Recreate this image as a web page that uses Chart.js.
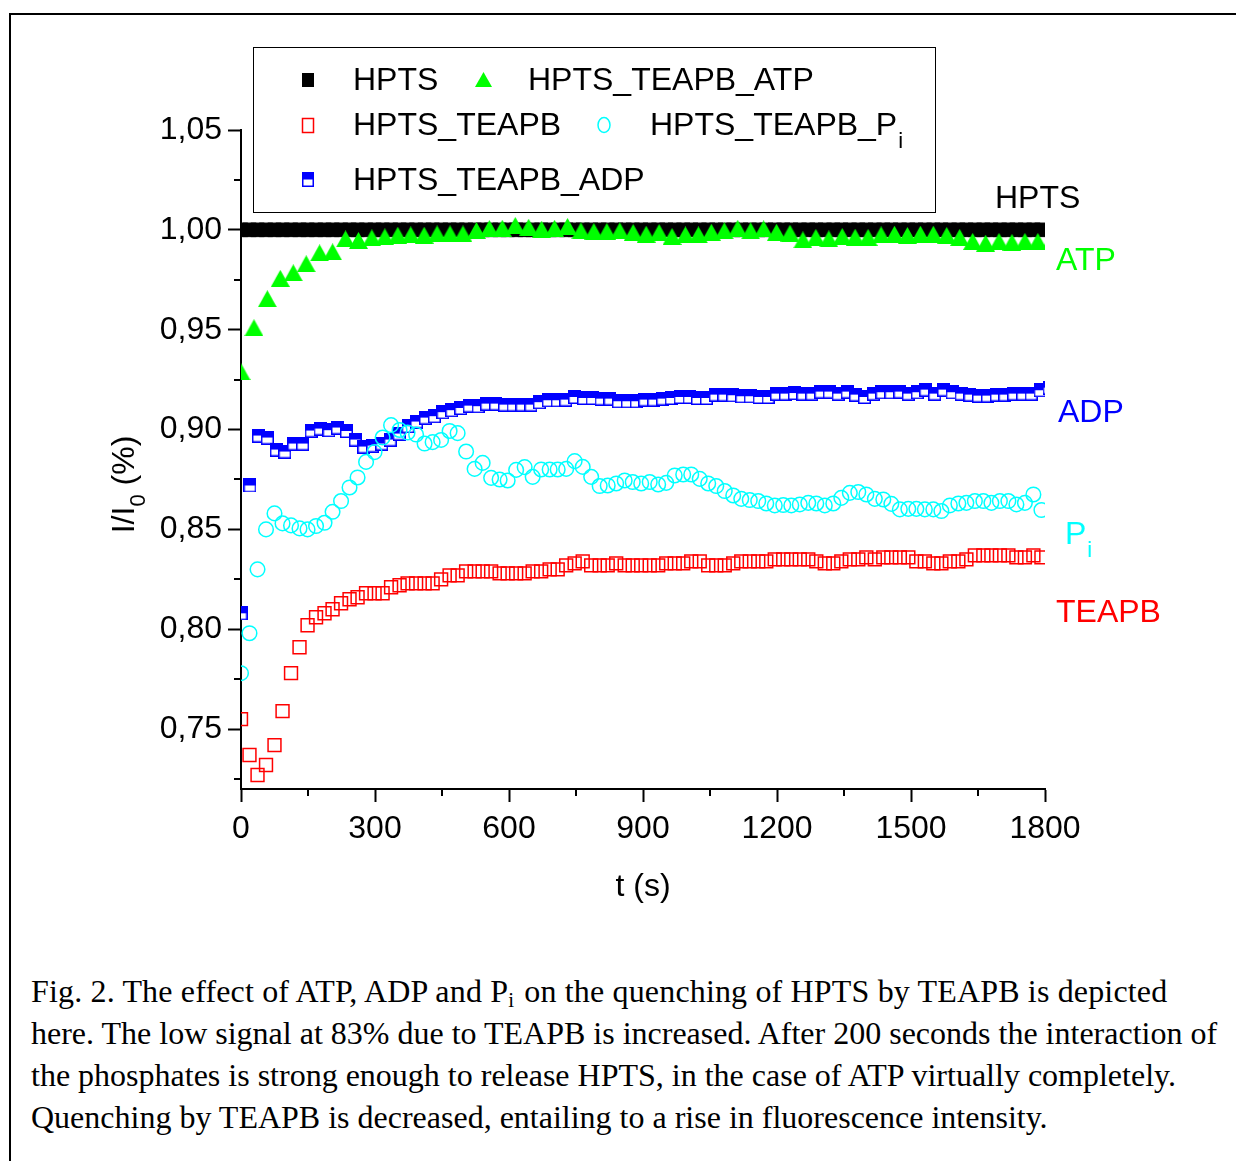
<!DOCTYPE html>
<html><head><meta charset="utf-8">
<script src="https://cdn.jsdelivr.net/npm/chart.js@4.4.0/dist/chart.umd.min.js"></script>
<style>
html,body{margin:0;padding:0;background:#fff;}
body{width:1236px;height:1161px;position:relative;overflow:hidden;}
#frame{position:absolute;left:9px;top:13px;width:1400px;height:1400px;border-left:2px solid #000;border-top:2px solid #000;box-sizing:border-box;}
#wrap{position:absolute;left:0;top:0;width:1236px;height:950px;}
#c{display:block;width:1236px;height:950px;}
#caption{position:absolute;left:31px;top:970px;font-family:'Liberation Serif','Times New Roman',serif;font-size:32px;line-height:42px;white-space:nowrap;color:#000;}
#caption sub{font-size:21px;vertical-align:-5px;line-height:0;padding-right:2px;}
#l1{letter-spacing:0.16px;}
</style></head>
<body>
<div id="frame"></div>
<div id="wrap"><canvas id="c" width="1236" height="950"></canvas></div>
<div id="caption"><span id="l1">Fig. 2. The effect of ATP, ADP and P<sub>i</sub> on the quenching of HPTS by TEAPB is depicted</span><br>here. The low signal at 83% due to TEAPB is increased. After 200 seconds the interaction of<br>the phosphates is strong enough to release HPTS, in the case of ATP virtually completely.<br>Quenching by TEAPB is decreased, entailing to a rise in fluorescence intensity.</div>
<script>
// ---------- data ----------
const xTickValues = [0, 300, 600, 900, 1200, 1500, 1800];
const xMinorTicks = [150, 450, 750, 1050, 1350, 1650];
const yTickValues = [0.75, 0.80, 0.85, 0.90, 0.95, 1.00, 1.05];
const yTickLabels = ["0,75", "0,80", "0,85", "0,90", "0,95", "1,00", "1,05"];
const yMinorTicks = [0.725, 0.775, 0.825, 0.875, 0.925, 0.975, 1.025];

const seriesNames = ["HPTS", "HPTS_TEAPB", "HPTS_TEAPB_ADP", "HPTS_TEAPB_ATP", "HPTS_TEAPB_Pi"];

// sampling times (s) of HPTS, HPTS_TEAPB and HPTS_TEAPB_Pi
const timesMain = [0,19,37,56,75,93,112,131,149,168,
  187,205,224,243,261,280,299,317,336,355,
  373,392,411,429,448,467,485,504,523,541,
  560,579,597,616,635,653,672,691,709,728,
  747,765,784,803,821,840,859,877,896,915,
  934,952,971,990,1008,1027,1046,1064,1083,1102,
  1120,1139,1158,1176,1195,1214,1232,1251,1270,1288,
  1307,1326,1344,1363,1382,1400,1419,1438,1456,1475,
  1494,1512,1531,1550,1568,1587,1606,1624,1643,1662,
  1680,1699,1718,1736,1755,1774,1792];

const hptsValues = [1.000,1.000,1.000,1.000,1.000,1.000,1.000,1.000,1.000,1.000,
  1.000,1.000,1.000,1.000,1.000,1.000,1.000,1.000,1.000,1.000,
  1.000,1.000,1.000,1.000,1.000,1.000,1.000,1.000,1.000,1.000,
  1.000,1.000,1.000,1.000,1.000,1.000,1.000,1.000,1.000,1.000,
  1.000,1.000,1.000,1.000,1.000,1.000,1.000,1.000,1.000,1.000,
  1.000,1.000,1.000,1.000,1.000,1.000,1.000,1.000,1.000,1.000,
  1.000,1.000,1.000,1.000,1.000,1.000,1.000,1.000,1.000,1.000,
  1.000,1.000,1.000,1.000,1.000,1.000,1.000,1.000,1.000,1.000,
  1.000,1.000,1.000,1.000,1.000,1.000,1.000,1.000,1.000,1.000,
  1.000,1.000,1.000,1.000,1.000,1.000,1.000];

const teapbValues = [0.755,0.737,0.727,0.732,0.742,0.759,0.778,0.791,0.802,0.806,
  0.808,0.810,0.813,0.815,0.816,0.818,0.818,0.818,0.821,0.822,
  0.823,0.823,0.823,0.823,0.825,0.827,0.827,0.829,0.829,0.829,
  0.829,0.828,0.828,0.828,0.828,0.829,0.829,0.830,0.830,0.832,
  0.833,0.834,0.832,0.832,0.832,0.833,0.832,0.832,0.832,0.832,
  0.832,0.833,0.833,0.833,0.834,0.834,0.832,0.832,0.832,0.833,
  0.834,0.834,0.834,0.834,0.835,0.835,0.835,0.835,0.835,0.834,
  0.833,0.833,0.834,0.835,0.835,0.836,0.835,0.836,0.836,0.836,
  0.836,0.834,0.834,0.833,0.833,0.834,0.834,0.835,0.837,0.837,
  0.837,0.837,0.837,0.836,0.836,0.837,0.836];

const piValues = [0.778,0.798,0.830,0.850,0.858,0.853,0.852,0.8505,0.850,0.8517,
  0.8533,0.8588,0.8642,0.871,0.876,0.8838,0.8887,0.896,0.9022,0.8998,
  0.8985,0.8975,0.893,0.8937,0.8948,0.8993,0.8982,0.889,0.8803,0.8833,
  0.8758,0.875,0.8745,0.8798,0.8812,0.8763,0.880,0.880,0.880,0.8803,
  0.8842,0.8813,0.8763,0.8717,0.872,0.873,0.8745,0.8737,0.873,0.8737,
  0.8725,0.8733,0.877,0.8775,0.8775,0.8753,0.873,0.8717,0.8692,0.867,
  0.8653,0.8647,0.8642,0.863,0.862,0.8622,0.862,0.8625,0.8633,0.863,
  0.862,0.863,0.8658,0.8683,0.8687,0.8675,0.8653,0.865,0.8628,0.860,
  0.8603,0.8603,0.860,0.860,0.8592,0.862,0.863,0.8633,0.8642,0.8642,
  0.8633,0.8642,0.8642,0.8625,0.8633,0.8675,0.8597];

// sampling times (s) of HPTS_TEAPB_ADP
const timesADP = [0,20,39,59,79,98,118,138,157,177,
  197,216,236,256,275,295,315,334,354,374,
  393,413,433,452,472,492,511,531,550,570,
  590,609,629,649,668,688,708,727,747,767,
  786,806,826,845,865,885,904,924,944,963,
  983,1003,1022,1042,1062,1081,1101,1121,1140,1160,
  1180,1199,1219,1239,1258,1278,1298,1317,1337,1357,
  1376,1396,1416,1435,1455,1475,1494,1514,1533,1553,
  1573,1592,1612,1632,1651,1671,1691,1710,1730,1750,
  1769,1789,1809];

const adpValues = [0.808,0.872,0.897,0.896,0.890,0.889,0.893,0.893,0.8995,0.9005,
  0.8997,0.901,0.8993,0.895,0.8915,0.892,0.893,0.895,0.898,0.9017,
  0.904,0.906,0.9067,0.9087,0.9097,0.9108,0.912,0.9117,0.913,0.913,
  0.9125,0.9125,0.9125,0.9125,0.9137,0.9147,0.9147,0.915,0.9163,0.9158,
  0.9158,0.9155,0.9155,0.9142,0.9142,0.9142,0.915,0.915,0.9155,0.9158,
  0.9163,0.9163,0.9158,0.9158,0.9175,0.9175,0.9172,0.9167,0.9167,0.9163,
  0.9163,0.918,0.918,0.9183,0.918,0.918,0.919,0.919,0.918,0.919,
  0.9175,0.9163,0.918,0.9187,0.9187,0.919,0.918,0.9187,0.920,0.918,
  0.920,0.9187,0.918,0.9175,0.917,0.917,0.9175,0.9175,0.918,0.918,
  0.918,0.9197,0.921];

// sampling times (s) of HPTS_TEAPB_ATP
const timesATP = [0,29,59,88,117,146,176,205,234,263,
  293,322,351,380,410,439,468,497,527,556,
  585,614,644,673,702,731,761,790,819,848,
  878,907,936,965,995,1024,1053,1082,1112,1141,
  1170,1199,1229,1258,1287,1316,1346,1375,1404,1433,
  1463,1492,1521,1550,1580,1609,1638,1667,1697,1726,
  1755,1784,1814];

const atpValues = [0.929,0.951,0.9655,0.9757,0.9785,0.983,0.9885,0.989,0.9955,0.9947,
  0.996,0.9965,0.9973,0.9975,0.9973,0.998,0.998,0.998,0.9997,1.0007,
  1.0008,1.0022,1.0013,1.0003,1.0008,1.0017,0.9995,0.9992,0.9992,0.9995,
  0.9987,0.9978,0.9987,0.9967,0.9975,0.9975,0.9988,0.9995,1.0008,0.9995,
  1.0005,0.9988,0.9983,0.995,0.9962,0.9955,0.9967,0.9963,0.9962,0.9975,
  0.9978,0.9972,0.9978,0.9978,0.9972,0.9962,0.9942,0.9933,0.9942,0.9937,
  0.9942,0.9942,0.9945];

// ---------- styles ----------
const C_BLACK = '#000000', C_RED = '#ff0000', C_BLUE = '#0000ff', C_GREEN = '#00ff00', C_CYAN = '#00ffff';
const FONT = '"Liberation Sans", Arial, sans-serif';

function makeTriangle(w, h, color) {
  const c = document.createElement('canvas'); c.width = w; c.height = h;
  const g = c.getContext('2d');
  g.fillStyle = color; g.beginPath();
  g.moveTo(w / 2, 0); g.lineTo(w, h); g.lineTo(0, h); g.closePath(); g.fill();
  return c;
}
function makeHalfSquare(w, h, color) {
  const c = document.createElement('canvas'); c.width = w; c.height = h;
  const g = c.getContext('2d');
  g.fillStyle = '#ffffff'; g.fillRect(0, 0, w, h);
  g.fillStyle = color; g.fillRect(0, 0, w, h / 2);
  g.strokeStyle = color; g.lineWidth = 1.5; g.strokeRect(0.75, 0.75, w - 1.5, h - 1.5);
  return c;
}
const triImg = makeTriangle(19, 17, C_GREEN);
const adpImg = makeHalfSquare(13, 14, C_BLUE);

function pts(ts, vs) { return ts.map((t, i) => ({ x: t, y: vs[i] })); }

const decor = {
  id: 'decor',
  afterDraw(chart) {
    const { ctx, chartArea: a, scales: { x, y } } = chart;
    ctx.save();
    // minor ticks
    ctx.strokeStyle = '#000'; ctx.lineWidth = 2;
    yMinorTicks.forEach(v => {
      const py = Math.round(y.getPixelForValue(v));
      ctx.beginPath(); ctx.moveTo(a.left - 7, py); ctx.lineTo(a.left, py); ctx.stroke();
    });
    xMinorTicks.forEach(v => {
      const px = Math.round(x.getPixelForValue(v));
      ctx.beginPath(); ctx.moveTo(px, a.bottom); ctx.lineTo(px, a.bottom + 7); ctx.stroke();
    });
    // axis titles
    ctx.fillStyle = '#000'; ctx.textBaseline = 'middle';
    ctx.font = '32px ' + FONT; ctx.textAlign = 'center';
    ctx.fillText('t (s)', (a.left + a.right) / 2, a.bottom + 98);
    // y title with subscript
    ctx.save();
    ctx.translate(a.left - 116, (a.top + a.bottom) / 2 + 25);
    ctx.rotate(-Math.PI / 2);
    ctx.textAlign = 'left';
    const p1 = 'I/I', p3 = ' (%)';
    ctx.font = '32px ' + FONT; const w1 = ctx.measureText(p1).width, w3 = ctx.measureText(p3).width;
    ctx.font = '22px ' + FONT; const w2 = ctx.measureText('0').width;
    let sx = -(w1 + w2 + w3) / 2;
    ctx.font = '32px ' + FONT; ctx.fillText(p1, sx, 0); sx += w1;
    ctx.font = '22px ' + FONT; ctx.fillText('0', sx, 14); sx += w2;
    ctx.font = '32px ' + FONT; ctx.fillText(p3, sx, 0);
    ctx.restore();
    // right-side labels
    ctx.textAlign = 'left'; ctx.font = '32px ' + FONT;
    ctx.fillStyle = C_BLACK; ctx.fillText('HPTS', a.right - 50, 199);
    ctx.fillStyle = C_GREEN; ctx.fillText('ATP', a.right + 11, 261);
    ctx.fillStyle = C_BLUE; ctx.fillText('ADP', a.right + 13, 413);
    ctx.fillStyle = C_CYAN; ctx.fillText('P', a.right + 20, 535);
    const pw = ctx.measureText('P').width;
    ctx.font = '22px ' + FONT; ctx.fillText('i', a.right + 20 + pw + 1, 551);
    ctx.font = '32px ' + FONT;
    ctx.fillStyle = C_RED; ctx.fillText('TEAPB', a.right + 11, 613);
    // legend box
    ctx.strokeStyle = '#000'; ctx.lineWidth = 1;
    ctx.strokeRect(253.5, 47.5, 682, 165);
    // legend symbols
    ctx.fillStyle = C_BLACK; ctx.fillRect(302, 73, 12, 14);
    ctx.drawImage(makeTriangle(17, 15, C_GREEN), 475, 72);
    ctx.strokeStyle = C_RED; ctx.lineWidth = 1.5; ctx.strokeRect(302.5, 118.5, 11, 14);
    ctx.strokeStyle = C_CYAN; ctx.beginPath(); ctx.ellipse(604, 125, 6, 7.5, 0, 0, Math.PI * 2); ctx.stroke();
    ctx.drawImage(makeHalfSquare(12, 15, C_BLUE), 302, 172);
    // legend texts
    ctx.fillStyle = '#000'; ctx.font = '32px ' + FONT;
    ctx.fillText('HPTS', 353, 81);
    ctx.fillText('HPTS_TEAPB_ATP', 528, 81);
    ctx.fillText('HPTS_TEAPB', 353, 126);
    ctx.fillText('HPTS_TEAPB_P', 650, 126);
    const lw = ctx.measureText('HPTS_TEAPB_P').width;
    ctx.font = '22px ' + FONT; ctx.fillText('i', 650 + lw + 1, 142);
    ctx.font = '32px ' + FONT;
    ctx.fillText('HPTS_TEAPB_ADP', 353, 181);
    ctx.restore();
  }
};

const common = { showLine: false, clip: 0 };
new Chart(document.getElementById('c'), {
  type: 'scatter',
  data: {
    datasets: [
      Object.assign({ label: seriesNames[3], data: pts(timesATP, atpValues), pointStyle: triImg, pointRadius: 9, backgroundColor: C_GREEN, borderColor: C_GREEN }, common),
      Object.assign({ label: seriesNames[4], data: pts(timesMain, piValues), pointStyle: 'circle', pointRadius: 7.3, pointBorderWidth: 1.5, backgroundColor: 'rgba(0,0,0,0)', borderColor: C_CYAN }, common),
      Object.assign({ label: seriesNames[2], data: pts(timesADP, adpValues), pointStyle: adpImg, pointRadius: 7, backgroundColor: C_BLUE, borderColor: C_BLUE }, common),
      Object.assign({ label: seriesNames[1], data: pts(timesMain, teapbValues), pointStyle: 'rect', pointRadius: 9.1, pointBorderWidth: 1.5, backgroundColor: 'rgba(0,0,0,0)', borderColor: C_RED }, common),
      Object.assign({ label: seriesNames[0], data: pts(timesMain, hptsValues), pointStyle: 'rect', pointRadius: 9.6, pointBorderWidth: 1, backgroundColor: C_BLACK, borderColor: C_BLACK }, common)
    ]
  },
  options: {
    responsive: false, animation: false, events: [],
    layout: { padding: { left: 0, top: 130, right: 191, bottom: 0 } },
    plugins: { legend: { display: false }, tooltip: { enabled: false } },
    scales: {
      x: {
        type: 'linear', min: 0, max: 1800,
        afterFit(s) { s.height = 161; },
        afterBuildTicks(s) { s.ticks = xTickValues.map(v => ({ value: v })); },
        ticks: { font: { family: FONT, size: 32 }, color: '#000', padding: 8, maxRotation: 0, autoSkip: false, callback: v => String(v) },
        grid: { display: true, drawOnChartArea: false, drawTicks: true, tickLength: 13, tickColor: '#000', tickWidth: 2 },
        border: { display: true, color: '#000', width: 2 }
      },
      y: {
        type: 'linear', min: 0.72, max: 1.05,
        afterFit(s) { s.width = 241; },
        afterBuildTicks(s) { s.ticks = yTickValues.map(v => ({ value: v })); },
        ticks: { font: { family: FONT, size: 32 }, color: '#000', padding: 6, autoSkip: false,
          callback: v => { const i = yTickValues.findIndex(t => Math.abs(t - v) < 1e-6); return i >= 0 ? yTickLabels[i] : ''; } },
        grid: { display: true, drawOnChartArea: false, drawTicks: true, tickLength: 13, tickColor: '#000', tickWidth: 2 },
        border: { display: true, color: '#000', width: 2 }
      }
    }
  },
  plugins: [decor]
});
</script>
</body></html>
